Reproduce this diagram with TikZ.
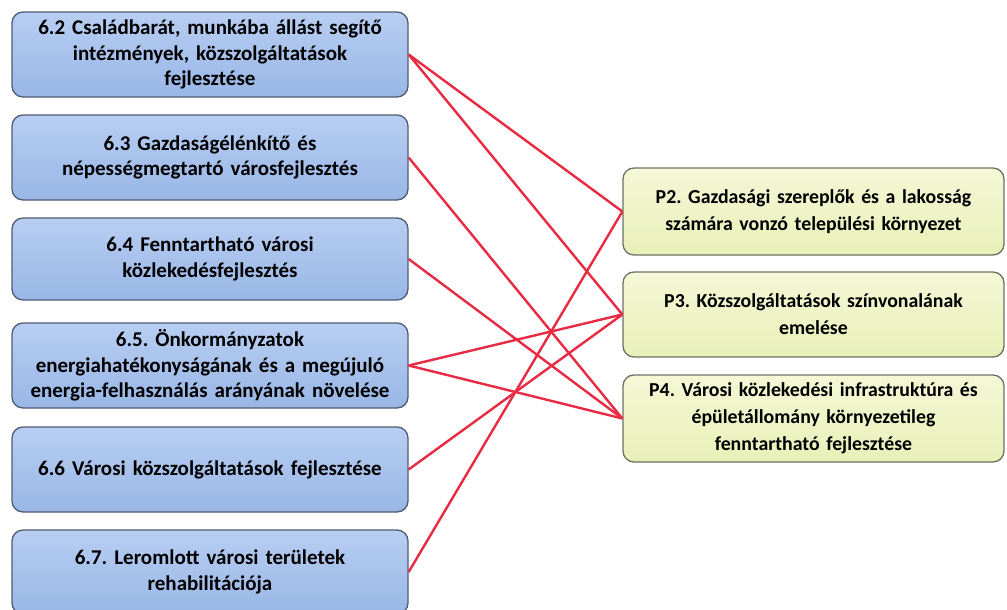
\documentclass[tikz,border=0pt]{standalone}
\usepackage{fontspec}
\setmainfont{Carlito}
\frenchspacing
\definecolor{bluetop}{RGB}{184,206,242}
\definecolor{bluebot}{RGB}{152,182,230}
\definecolor{blueedge}{RGB}{80,92,115}
\definecolor{greentop}{RGB}{244,248,214}
\definecolor{greenbot}{RGB}{232,240,184}
\definecolor{greenedge}{RGB}{110,112,100}
\definecolor{linkred}{RGB}{232,42,66}
\tikzset{
  leftbox/.style={draw=blueedge, line width=1.3pt, rounded corners=11pt,
    top color=bluetop, bottom color=bluebot,
    minimum width=396pt, text width=385pt, align=center, inner sep=0pt,
    font=\bfseries\fontsize{21}{25.5}\selectfont, text=black},
  rightbox/.style={draw=greenedge, line width=1.3pt, rounded corners=11pt,
    top color=greentop, bottom color=greenbot,
    minimum width=381pt, text width=372pt, align=center, inner sep=0pt,
    font=\bfseries\fontsize{19.8}{27}\selectfont, text=black},
  link/.style={draw=linkred, line width=2.4pt}
}
\begin{document}
\begin{tikzpicture}[x=1pt, y=-1pt]
\useasboundingbox (0,0) rectangle (1007,610);

% left column: measures 6.2 - 6.7
\node[leftbox, minimum height=85pt] (m62) at (210,54.5)
  {6.2 Családbarát, munkába állást segítő\\intézmények, közszolgáltatások\\fejlesztése};
\node[leftbox, minimum height=85pt] (m63) at (210,157.5)
  {6.3 Gazdaságélénkítő és\\népességmegtartó városfejlesztés};
\node[leftbox, minimum height=82pt] (m64) at (210,259)
  {6.4 Fenntartható városi\\közlekedésfejlesztés};
\node[leftbox, minimum height=85pt] (m65) at (210,365.5)
  {6.5. Önkormányzatok\\energiahatékonyságának és a megújuló\\energia-felhasználás arányának növelése};
\node[leftbox, minimum height=85pt] (m66) at (210,469.5)
  {6.6 Városi közszolgáltatások fejlesztése};
\node[leftbox, minimum height=84pt] (m67) at (210,572)
  {6.7. Leromlott városi területek\\rehabilitációja};

% right column: priorities P2 - P4
\node[rightbox, minimum height=87pt] (p2) at (813.5,211.5)
  {P2. Gazdasági szereplők és a lakosság\\számára vonzó települési környezet};
\node[rightbox, minimum height=85pt] (p3) at (813.5,314.5)
  {P3. Közszolgáltatások színvonalának\\emelése};
\node[rightbox, minimum height=87pt] (p4) at (813.5,418.5)
  {P4. Városi közlekedési infrastruktúra és\\épületállomány környezetileg\\fenntartható fejlesztése};

% links between measures and priorities
\draw[link] (m62.east) -- (p2.west);
\draw[link] (m62.east) -- (p3.west);
\draw[link] (m63.east) -- (p4.west);
\draw[link] (m64.east) -- (p4.west);
\draw[link] (m65.east) -- (p3.west);
\draw[link] (m65.east) -- (p4.west);
\draw[link] (m66.east) -- (p3.west);
\draw[link] (m67.east) -- (p2.west);
\end{tikzpicture}
\end{document}
